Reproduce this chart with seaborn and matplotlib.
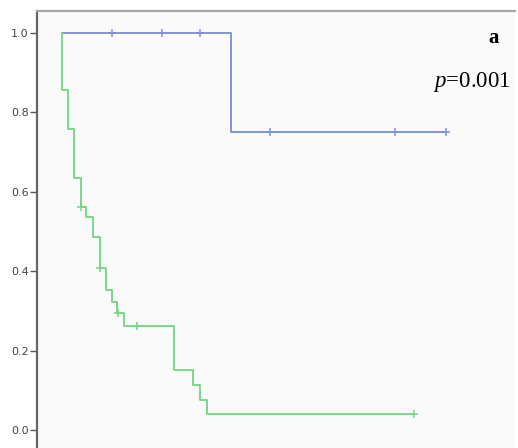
import numpy as np
import pandas as pd
import matplotlib
matplotlib.use("Agg")
import matplotlib.pyplot as plt
import seaborn as sns

# Kaplan-Meier step functions (time in months, cumulative survival)
green_time = [0, 0, 1.4, 3.0, 4.7, 6.0, 7.8, 9.5, 11.0, 12.4, 13.8, 15.6, 28.1, 32.8, 34.5, 36.2, 87.9]
green_surv = [1.0, 0.856, 0.758, 0.636, 0.5625, 0.537, 0.487, 0.409, 0.352, 0.322, 0.294, 0.261,
              0.150, 0.114, 0.076, 0.040, 0.040]
green_censored = [4.7, 9.5, 13.9, 18.7, 87.9]

blue_time = [0, 42.2, 95.9]
blue_surv = [1.0, 0.75, 0.75]
blue_censored = [12.4, 25.1, 34.5, 51.9, 83.2, 95.9]

y_ticks = [0.0, 0.2, 0.4, 0.6, 0.8, 1.0]
y_tick_labels = ["0.0", "0.2", "0.4", "0.6", "0.8", "1.0"]

BLUE = "#7f91d6"
GREEN = "#74d684"


def surv_at(times, surv, t):
    idx = np.searchsorted(np.asarray(times), t, side="right") - 1
    return np.asarray(surv)[idx]


sns.set_theme(style="white")
plt.rcParams["font.family"] = ["DejaVu Sans"]
plt.rcParams["mathtext.fontset"] = "custom"
plt.rcParams["mathtext.it"] = "Liberation Serif:italic"
plt.rcParams["mathtext.rm"] = "Liberation Serif"

W, H = 518, 448
fig = plt.figure(figsize=(W / 100, H / 100), dpi=100)
fig.patch.set_facecolor("white")
ax = fig.add_axes([37 / W, 0.0, (515 - 37) / W, 1 - 11 / H])
ax.set_facecolor("#fafafa")

for times, surv, cens, col in [
    (blue_time, blue_surv, blue_censored, BLUE),
    (green_time, green_surv, green_censored, GREEN),
]:
    df = pd.DataFrame({"time": times, "surv": surv})
    sns.lineplot(data=df, x="time", y="surv", drawstyle="steps-post", color=col,
                 linewidth=1.35, ax=ax, sort=False, estimator=None)
    cdf = pd.DataFrame({"time": cens, "surv": [surv_at(times, surv, c) for c in cens]})
    sns.scatterplot(data=cdf, x="time", y="surv", marker="+", s=40, color=col,
                    linewidth=1.1, ax=ax, zorder=3)

ax.set_xlim(-6.25, 113.25)
ax.set_ylim(-0.0453, 1.0554)
ax.set_xlabel("")
ax.set_ylabel("")
ax.set_xticks([])
ax.set_yticks(y_ticks)
ax.set_yticklabels(y_tick_labels)
ax.tick_params(axis="y", left=True, length=5, width=1.0, color="#555555",
               labelsize=8, labelcolor="#444444", pad=1)

ax.spines["left"].set_color("#666666")
ax.spines["left"].set_linewidth(1.6)
ax.spines["top"].set_color("#a8a8a8")
ax.spines["top"].set_linewidth(1.6)
ax.spines["right"].set_visible(False)
ax.spines["bottom"].set_visible(False)

fig.text(494 / W, 1 - 43 / H, "a", ha="center", va="baseline", fontsize=15,
         fontweight="bold", family="Liberation Serif", color="black")
fig.text(511 / W, 1 - 87 / H, r"$p$=0.001", ha="right", va="baseline", fontsize=16.5,
         family="Liberation Serif", color="black")

fig.savefig("out.png", dpi=100)
